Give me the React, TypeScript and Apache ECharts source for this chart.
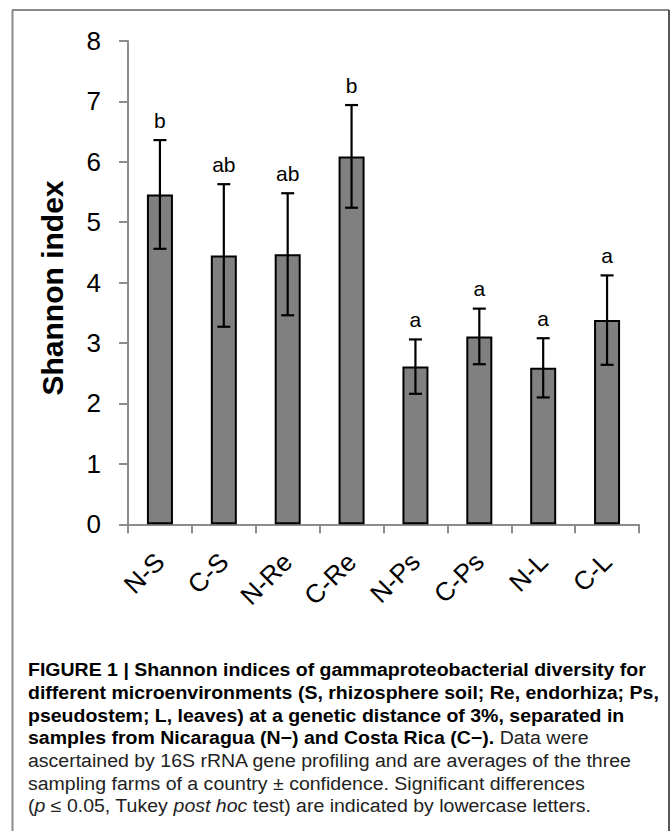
import React, { useEffect, useRef } from "react";
import * as echarts from "echarts";

const categories = ["N-S", "C-S", "N-Re", "C-Re", "N-Ps", "C-Ps", "N-L", "C-L"];
const values = [5.46, 4.45, 4.47, 6.09, 2.61, 3.11, 2.59, 3.38];
const errors = [0.9, 1.18, 1.01, 0.85, 0.45, 0.46, 0.49, 0.74];
const letters = ["b", "ab", "ab", "b", "a", "a", "a", "a"];
const yTicks = { min: 0, max: 8, interval: 1 };
const yName = "Shannon index";

const captionLines: { parts: { t: string; s: "b" | "n" | "i" }[] }[] = [
  { parts: [{ t: "FIGURE 1 | Shannon indices of gammaproteobacterial diversity for", s: "b" }] },
  { parts: [{ t: "different microenvironments (S, rhizosphere soil; Re, endorhiza; Ps,", s: "b" }] },
  { parts: [{ t: "pseudostem; L, leaves) at a genetic distance of 3%, separated in", s: "b" }] },
  {
    parts: [
      { t: "samples from Nicaragua (N\u2212) and Costa Rica (C\u2212).", s: "b" },
      { t: " Data were", s: "n" },
    ],
  },
  { parts: [{ t: "ascertained by 16S rRNA gene profiling and are averages of the three", s: "n" }] },
  { parts: [{ t: "sampling farms of a country \u00b1 confidence. Significant differences", s: "n" }] },
  {
    parts: [
      { t: "(", s: "n" },
      { t: "p", s: "i" },
      { t: " \u2264 0.05, Tukey ", s: "n" },
      { t: "post hoc", s: "i" },
      { t: " test) are indicated by lowercase letters.", s: "n" },
    ],
  },
];

const FONT = '"Liberation Sans", Arial, Helvetica, sans-serif';
const CAP_SIZE = 18;

function measure(text: string, font: string): number {
  const c = document.createElement("canvas");
  const ctx = c.getContext("2d");
  if (!ctx) return text.length * 9;
  ctx.font = font;
  return ctx.measureText(text).width;
}

export default function App() {
  const ref = useRef<HTMLDivElement>(null);

  useEffect(() => {
    if (!ref.current) return;
    const chart = echarts.init(ref.current, undefined, { renderer: "svg" });

    const boldW = measure(captionLines[0].parts[0].t, `bold ${CAP_SIZE}px ${FONT}`);
    const scale = 618 / boldW;

    const captionGraphics = captionLines.map((line, i) => {
      const text = line.parts.map((p) => `{${p.s}|${p.t.replace(/[{}]/g, "")}}`).join("");
      return {
        type: "text",
        x: 28,
        y: 670 + i * 22.7,
        scaleX: scale,
        style: {
          text,
          fontFamily: FONT,
          fontSize: CAP_SIZE,
          fill: "#1a1a1a",
          align: "left",
          verticalAlign: "middle",
          rich: {
            b: { fontWeight: "bold", fontFamily: FONT, fontSize: CAP_SIZE, fill: "#000" },
            n: { fontWeight: "normal", fontFamily: FONT, fontSize: CAP_SIZE, fill: "#222" },
            i: { fontWeight: "normal", fontStyle: "italic", fontFamily: FONT, fontSize: CAP_SIZE, fill: "#222" },
          },
        },
      };
    });

    const option: any = {
      animation: false,
      grid: { left: 128, top: 41, width: 511, height: 483.3, containLabel: false },
      xAxis: {
        type: "category",
        data: categories,
        axisLine: { show: true, lineStyle: { color: "#8c8c8c", width: 2 } },
        axisTick: { show: true, length: 9, lineStyle: { color: "#8c8c8c", width: 2 } },
        axisLabel: {
          interval: 0,
          rotate: 45,
          fontSize: 26,
          fontFamily: FONT,
          color: "#000",
          margin: 33,
        },
        splitLine: { show: false },
      },
      yAxis: {
        type: "value",
        min: yTicks.min,
        max: yTicks.max,
        interval: yTicks.interval,
        axisLine: { show: true, lineStyle: { color: "#8c8c8c", width: 2 } },
        axisTick: { show: true, length: 9, lineStyle: { color: "#8c8c8c", width: 2 } },
        axisLabel: { fontSize: 26, fontFamily: FONT, color: "#000", margin: 27 },
        splitLine: { show: false },
      },
      series: [
        {
          type: "bar",
          data: values,
          barWidth: 26,
          itemStyle: { color: "#808080", borderColor: "#000", borderWidth: 2 },
          z: 2,
        },
        {
          type: "custom",
          z: 5,
          data: categories.map((c, i) => [i, values[i], errors[i]]),
          renderItem: (params: any, api: any) => {
            const idx = api.value(0);
            const v = api.value(1);
            const e = api.value(2);
            const top = api.coord([idx, v + e]);
            const bot = api.coord([idx, v - e]);
            const cap = 6.5;
            const ls = { stroke: "#000", lineWidth: 2.2 };
            return {
              type: "group",
              children: [
                { type: "line", shape: { x1: top[0], y1: top[1], x2: bot[0], y2: bot[1] }, style: ls },
                { type: "line", shape: { x1: top[0] - cap, y1: top[1], x2: top[0] + cap, y2: top[1] }, style: ls },
                { type: "line", shape: { x1: bot[0] - cap, y1: bot[1], x2: bot[0] + cap, y2: bot[1] }, style: ls },
                {
                  type: "text",
                  x: top[0],
                  y: top[1] - 20,
                  style: {
                    text: letters[params.dataIndex],
                    fontSize: 21,
                    fontFamily: FONT,
                    fill: "#000",
                    align: "center",
                    verticalAlign: "middle",
                  },
                },
              ],
            };
          },
        },
      ],
      graphic: [
        {
          type: "line",
          shape: { x1: 12, y1: 10, x2: 669, y2: 10 },
          style: { stroke: "#8a8a8a", lineWidth: 2 },
        },
        {
          type: "line",
          shape: { x1: 12.5, y1: 10, x2: 12.5, y2: 840 },
          style: { stroke: "#8a8a8a", lineWidth: 2 },
        },
        {
          type: "line",
          shape: { x1: 669, y1: 10, x2: 669, y2: 840 },
          style: { stroke: "#222", lineWidth: 1.5 },
        },
        {
          type: "text",
          x: 52,
          y: 288,
          rotation: Math.PI / 2,
          style: {
            text: yName,
            fontSize: 30,
            fontWeight: "bold",
            fontFamily: FONT,
            fill: "#000",
            align: "center",
            verticalAlign: "middle",
          },
        },
        ...captionGraphics,
      ],
    };

    chart.setOption(option);
    return () => chart.dispose();
  }, []);

  return (
    <div
      ref={ref}
      style={{ position: "absolute", left: 0, top: 0, width: 671, height: 831, background: "#fff" }}
    />
  );
}
